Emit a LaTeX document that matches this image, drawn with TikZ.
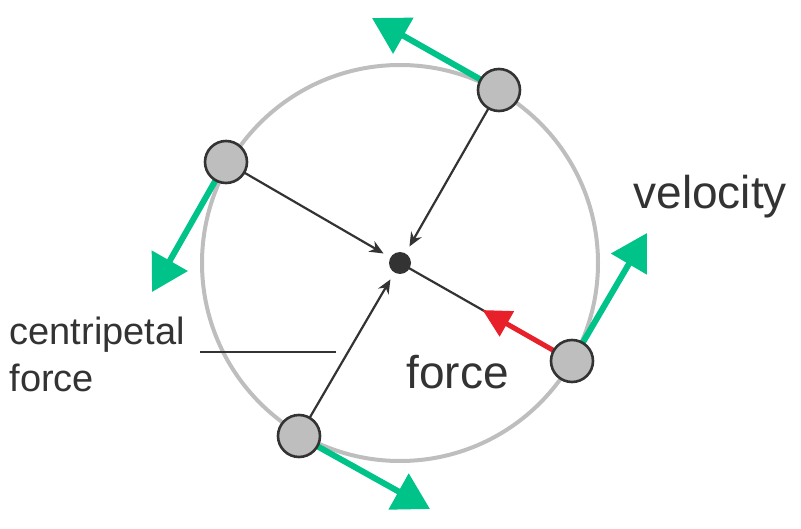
\documentclass[tikz,border=0pt]{standalone}
\usepackage{fontspec}
\setmainfont{Liberation Sans}
\usetikzlibrary{arrows.meta,calc,positioning}
\definecolor{vgreen}{HTML}{00C389}
\definecolor{fred}{HTML}{E8202A}
\definecolor{ink}{HTML}{333333}
\definecolor{rim}{HTML}{BEBEBE}
\begin{document}
\begin{tikzpicture}[x=1pt,y=-1pt,
    ball/.style={circle, draw=ink, line width=2.6pt, fill=rim, minimum size=42pt, inner sep=0pt},
    vel/.style={-{Triangle[length=36pt,width=40pt]}, vgreen, line width=6pt},
    pull/.style={-{Stealth[length=14pt,width=12pt]}, ink, line width=2.2pt},
    label/.style={font=\fontsize{46}{50}\selectfont, text=ink},
    small/.style={font=\fontsize{38}{47}\selectfont, text=ink, align=left}
]
\useasboundingbox (0,0) rectangle (801,529);

% Orbit
\draw[rim, line width=4pt] (400,263) circle (198);
\coordinate (mid) at (400,263);

% Balls
\coordinate (a) at (499,90);
\coordinate (b) at (226,162);
\coordinate (c) at (299,436);
\coordinate (d) at (572,361);

% Velocity arrows
\draw[vel] (a) -- (372,18);
\draw[vel] (b) -- (152,292);
\draw[vel] (c) -- (430,509);
\draw[vel] (d) -- (647,233);

% Pull towards the middle
\draw[pull, shorten >=19pt] (a) -- (mid);
\draw[pull, shorten >=19pt] (b) -- (mid);
\draw[pull, shorten >=19pt] (c) -- (mid);
\draw[ink, line width=2.2pt] (d) -- (mid);
\coordinate (tip) at ($(d)!0.52!(mid)$);
\draw[-{Triangle[length=28pt,width=28pt]}, fred, line width=5pt] (d) -- (tip);

\node[ball] (ba) at (a) {};
\node[ball] (bb) at (b) {};
\node[ball] (bc) at (c) {};
\node[ball] (bd) at (d) {};
\node[circle, fill=ink, minimum size=22pt, inner sep=0pt] (dot) at (mid) {};

% Labels
\node[label, anchor=west] (vlab) at (630,197) {velocity};
\node[label, anchor=west] (flab) at (403,372) {force};
\node[small, anchor=west] (clab) at (6,354) {centripetal\\force};
\coordinate (cl) at (200,352);
\coordinate (cr) at (336,352);
\draw[ink, line width=1.5pt] (cl) -- (cr);
\end{tikzpicture}
\end{document}
